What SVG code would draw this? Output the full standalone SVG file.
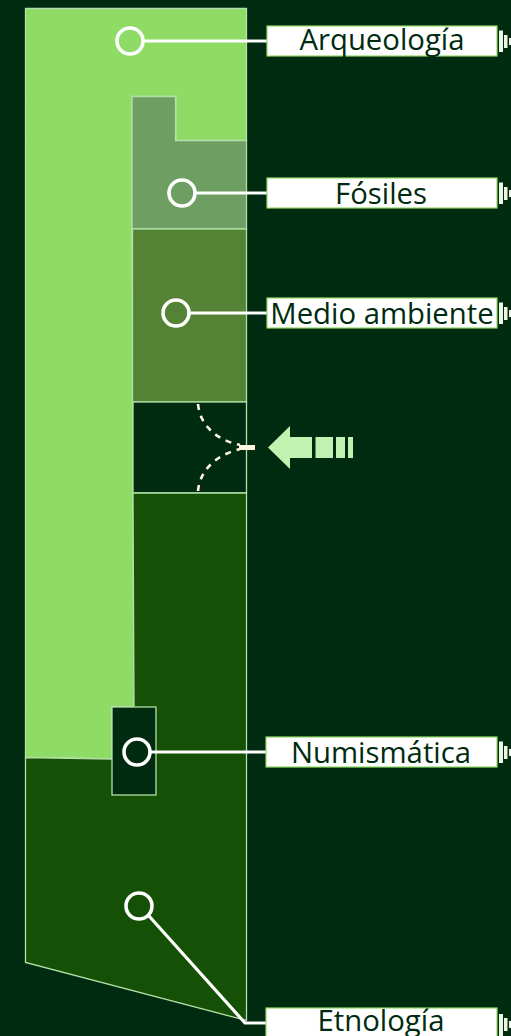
<svg xmlns="http://www.w3.org/2000/svg" width="511" height="1036" viewBox="0 0 511 1036">
<style>
.a{stroke:#b4dfa6;stroke-width:1.300}
.l{fill:#fff;stroke:#8fdb66;stroke-width:1.200}
.t{font-family:"Open Sans",sans-serif;font-size:29.300px;fill:#002b10;text-anchor:middle}
.c{fill:none;stroke:#fff;stroke-width:3.200}
.m{fill:none;stroke:#fff;stroke-width:3.600}
.g{fill:#c3f2b0}
.w{fill:#eef5e6}
</style>
<rect width="511" height="1036" fill="#002b10"/>
<g id="arqueologia">
<path class="a" d="M25.500 8.500H246.500V140.500H176V96.500H132V229L133 402V493L134 707H112V759L25.500 757.500Z" fill="#8edb66"/>
</g>
<g id="fosiles">
<path class="a" d="M132 96.500H175.500V140.500H246.500V229H132Z" fill="#6f9e62"/>
</g>
<g id="medio">
<rect class="a" x="132.500" y="229" width="114" height="173" fill="#558336"/>
</g>
<g id="entrada">
<rect class="a" x="133" y="402" width="113.500" height="91" fill="#002b10"/>
<path d="M198 404C200 425 216 440 240 445M198 491C200 470 216 455 240 449" fill="none" stroke="#fdf7df" stroke-width="2.600" stroke-dasharray="6 6"/>
<rect x="239" y="445" width="16" height="5" fill="#fdf7df"/>
</g>
<g id="etnologia">
<path class="a" d="M133 493H246.500V1020.500L25.500 962.500V757.500L112 759V707H134Z" fill="#145006"/>
</g>
<g id="numismatica">
<rect class="a" x="112" y="707" width="44" height="88" fill="#002b10"/>
</g>
<g id="flecha">
<path class="g" d="M268 447.500L290 426V437H312V458H290V469Z"/>
<rect class="g" x="315.500" y="437" width="17.500" height="21"/>
<rect class="g" x="336" y="437" width="9" height="21"/>
<rect class="g" x="348" y="437" width="5" height="21"/>
</g>
<g id="connectors">
<path class="c" d="M144 41H267"/>
<path class="c" d="M196 193H267"/>
<path class="c" d="M190 313H267"/>
<path class="c" d="M151 752H267"/>
<path class="c" d="M149 916L245 1023H267"/>
</g>
<g id="markers">
<circle class="m" cx="130" cy="41" r="13"/>
<circle class="m" cx="182" cy="193" r="13"/>
<circle class="m" cx="176" cy="313" r="13"/>
<circle class="m" cx="137" cy="752" r="13"/>
<circle class="m" cx="139" cy="906" r="13"/>
</g>
<g id="label-arqueologia">
<rect class="l" x="267" y="26" width="230" height="30"/>
<text class="t" x="382" y="50">Arqueología</text>
<path class="w" d="M499 30.500h4v21.500h-4zM504 35h3.500v13h-3.500zM509 38h2v7h-2z"/>
</g>
<g id="label-fosiles">
<rect class="l" x="267" y="178" width="230" height="30"/>
<text class="t" x="381" y="204">Fósiles</text>
<path class="w" d="M499 182.500h4v21.500h-4zM504 187h3.500v13h-3.500zM509 190h2v7h-2z"/>
</g>
<g id="label-medio">
<rect class="l" x="267" y="298" width="230" height="30"/>
<text class="t" x="382" y="324">Medio ambiente</text>
<path class="w" d="M499 302.500h4v21.500h-4zM504 307h3.500v13h-3.500zM509 310h2v7h-2z"/>
</g>
<g id="label-numismatica">
<rect class="l" x="266" y="737" width="231" height="30"/>
<text class="t" x="381" y="763">Numismática</text>
<path class="w" d="M499 741.500h4v21.500h-4zM504 746h3.500v13h-3.500zM509 749h2v7h-2z"/>
</g>
<g id="label-etnologia">
<rect class="l" x="266" y="1008" width="231" height="30"/>
<text class="t" x="381" y="1031">Etnología</text>
<path class="w" d="M499 1014h4v22h-4zM504 1018h3.500v13h-3.500zM509 1021h2v7h-2z"/>
</g>
</svg>
